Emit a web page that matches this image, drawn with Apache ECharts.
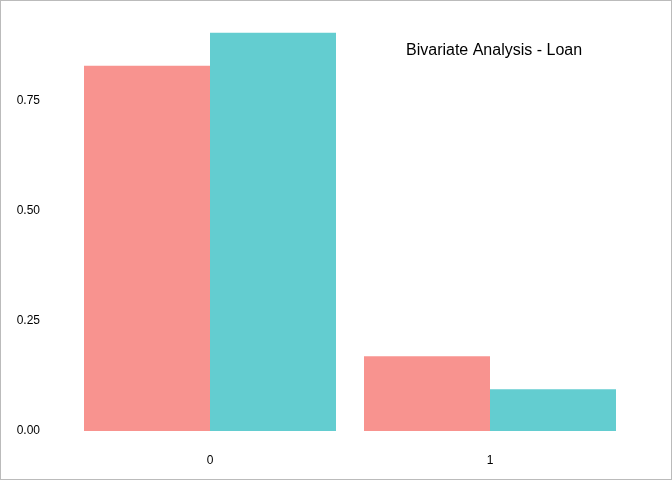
<!DOCTYPE html>
<html lang="en">
<head>
    <meta charset="UTF-8">
    <title>Bivariate Analysis - Loan</title>
    <script src="https://cdn.jsdelivr.net/npm/echarts@6/dist/echarts.min.js"></script>
    <style>
        body { margin: 0; }
        #main { width: 670px; height: 478px; border: 1px solid #bbb; }
    </style>
</head>
<body>
    <div id="main"></div>
    <script type="text/javascript">
        const categories = ['0', '1']
        const seriesA = [0.83, 0.17]
        const seriesB = [0.905, 0.095]
        const yTicks = [0, 0.25, 0.5, 0.75]

        var myChart = echarts.init(document.getElementById('main'));
        var option = {
            animation: false,
            title: {
                text: 'Bivariate Analysis - Loan',
                left: 400, top: 37,
                textStyle: { fontFamily: 'Liberation Sans', fontWeight: 'normal', fontSize: 16, color: '#000' }
            },
            grid: { left: 69, right: 41, top: 12, bottom: 48 },
            xAxis: {
                type: 'category',
                data: categories,
                axisLine: { show: false },
                axisTick: { show: false },
                axisLabel: { margin: 24, fontFamily: 'Liberation Sans', fontSize: 12, color: '#000' }
            },
            yAxis: {
                type: 'value',
                min: 0, max: 0.95, interval: 0.25,
                splitLine: { show: false },
                axisLabel: {
                    margin: 30, fontFamily: 'Liberation Sans', fontSize: 12, color: '#000',
                    showMaxLabel: false,
                    formatter: v => yTicks.some(t => Math.abs(t - v) < 1e-9) ? v.toFixed(2) : ''
                }
            },
            series: [
                { type: 'bar', data: seriesA, barGap: '0%', barCategoryGap: '10%', itemStyle: { color: '#F8938F' } },
                { type: 'bar', data: seriesB, itemStyle: { color: '#63CDD0' } }
            ]
        };
        myChart.setOption(option);
    </script>
</body>
</html>
